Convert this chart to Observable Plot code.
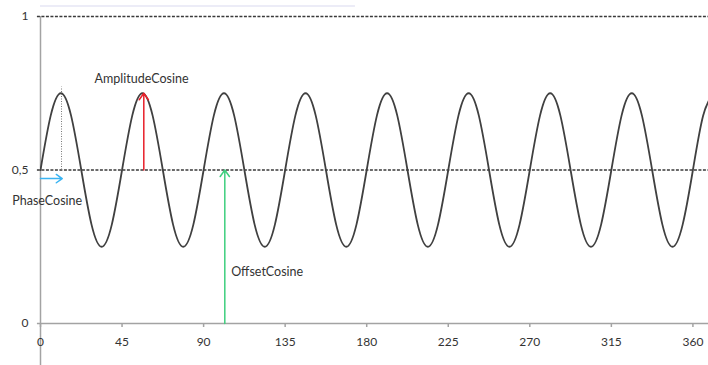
<!DOCTYPE html>
<html>
<head>
<meta charset="utf-8">
<script src="https://cdn.jsdelivr.net/npm/d3@7"></script>
<script src="https://cdn.jsdelivr.net/npm/@observablehq/plot@0.6"></script>
<style>
  html, body { margin: 0; padding: 0; background: #fff; }
  #chart { width: 708px; height: 365px; overflow: hidden; }
</style>
</head>
<body>
<div id="chart"></div>
<script>
// Wave samples (degrees, value)
const waveX = [
  0, 5.625, 11.25, 16.875, 22.5, 28.125, 33.75, 39.375,
  45, 50.625, 56.25, 61.875, 67.5, 73.125, 78.75, 84.375,
  90, 95.625, 101.25, 106.875, 112.5, 118.125, 123.75, 129.375,
  135, 140.625, 146.25, 151.875, 157.5, 163.125, 168.75, 174.375,
  180, 185.625, 191.25, 196.875, 202.5, 208.125, 213.75, 219.375,
  225, 230.625, 236.25, 241.875, 247.5, 253.125, 258.75, 264.375,
  270, 275.625, 281.25, 286.875, 292.5, 298.125, 303.75, 309.375,
  315, 320.625, 326.25, 331.875, 337.5, 343.125, 348.75, 354.375,
  360, 365.625, 371.25
];
const waveY = [
  0.5, 0.677, 0.75, 0.677, 0.5, 0.323, 0.25, 0.323,
  0.5, 0.677, 0.75, 0.677, 0.5, 0.323, 0.25, 0.323,
  0.5, 0.677, 0.75, 0.677, 0.5, 0.323, 0.25, 0.323,
  0.5, 0.677, 0.75, 0.677, 0.5, 0.323, 0.25, 0.323,
  0.5, 0.677, 0.75, 0.677, 0.5, 0.323, 0.25, 0.323,
  0.5, 0.677, 0.75, 0.677, 0.5, 0.323, 0.25, 0.323,
  0.5, 0.677, 0.75, 0.677, 0.5, 0.323, 0.25, 0.323,
  0.5, 0.677, 0.75, 0.677, 0.5, 0.323, 0.25, 0.323,
  0.5, 0.677, 0.75
];

// Axis ticks
const xTicks = [0, 45, 90, 135, 180, 225, 270, 315, 360];
const yTicks = [0, 0.5, 1];

// Reference (dashed) levels
const dashedLevels = [1, 0.5];

// Annotations
const annoNames  = ["PhaseCosine", "AmplitudeCosine", "OffsetCosine"];
const annoColors = ["#3ab4f2", "#e8202a", "#3fcf7f"];
const arrowX1 = [0, 57, 101.7];
const arrowY1 = [0.472, 0.5, 0];
const arrowX2 = [12, 57, 101.7];
const arrowY2 = [0.472, 0.75, 0.5];
const labelX  = [-15.6, 29.8, 105.2];
const labelY  = [0.40, 0.795, 0.168];

// Dotted phase guide
const guideX = [11.6];
const guideY1 = [0.5];
const guideY2 = [0.77];

const wave = waveX.map((x, i) => ({x, y: waveY[i]}));
const arrows = annoNames.map((name, i) => ({
  name, color: annoColors[i],
  x1: arrowX1[i], y1: arrowY1[i], x2: arrowX2[i], y2: arrowY2[i],
  lx: labelX[i], ly: labelY[i]
}));
const guides = guideX.map((x, i) => ({x, y1: guideY1[i], y2: guideY2[i]}));

const chart = Plot.plot({
  width: 708,
  height: 365,
  marginLeft: 40,
  marginRight: 0,
  marginTop: 16,
  marginBottom: 42,
  style: {fontFamily: "Lato, sans-serif", fontSize: "12px", background: "#fff", overflow: "hidden"},
  x: {domain: [0, 368.6]},
  y: {domain: [0, 1]},
  marks: [
    // faint border line at the top
    Plot.ruleY([1.034], {x1: 0, x2: 173.8, stroke: "#e6e6f4", strokeWidth: 1.5}),
    // y axis line (extends below zero)
    Plot.ruleX([0], {y1: 1, y2: -0.15, stroke: "#a3a3a3", strokeWidth: 1.5}),
    // x axis line
    Plot.ruleY([0], {x1: -1.7, x2: 368.6, stroke: "#a3a3a3", strokeWidth: 1.5}),
    Plot.axisX(xTicks, {
      tickSize: 4, tickPadding: 10, stroke: "#a3a3a3", strokeWidth: 1.5,
      fill: "#333", fontSize: 12, label: null
    }),
    Plot.axisY(yTicks, {
      tickSize: 0, tickPadding: 12, fill: "#333", fontSize: 12, label: null,
      tickFormat: d => String(d).replace(".", ",")
    }),
    // dashed levels
    Plot.ruleY(dashedLevels, {x1: -1.7, x2: 368.6, stroke: "#3a3a3a", strokeWidth: 1.5, strokeDasharray: "3,1.5"}),
    // dotted phase guide
    Plot.ruleX(guides, {x: "x", y1: "y1", y2: "y2", stroke: "#777", strokeWidth: 1, strokeDasharray: "1,1.5"}),
    // the wave
    Plot.line(wave, {x: "x", y: "y", curve: "natural", stroke: "#404040", strokeWidth: 1.8, clip: true}),
    // arrows
    Plot.arrow(arrows, {
      x1: "x1", y1: "y1", x2: "x2", y2: "y2",
      stroke: d => d.color, strokeWidth: 1.5, headLength: 8, headAngle: 70
    }),
    // labels
    Plot.text(arrows, {
      x: "lx", y: "ly", text: "name", textAnchor: "start",
      fill: "#333", fontSize: 12.5, lineAnchor: "middle"
    })
  ]
});

document.getElementById("chart").appendChild(chart);
</script>
</body>
</html>
